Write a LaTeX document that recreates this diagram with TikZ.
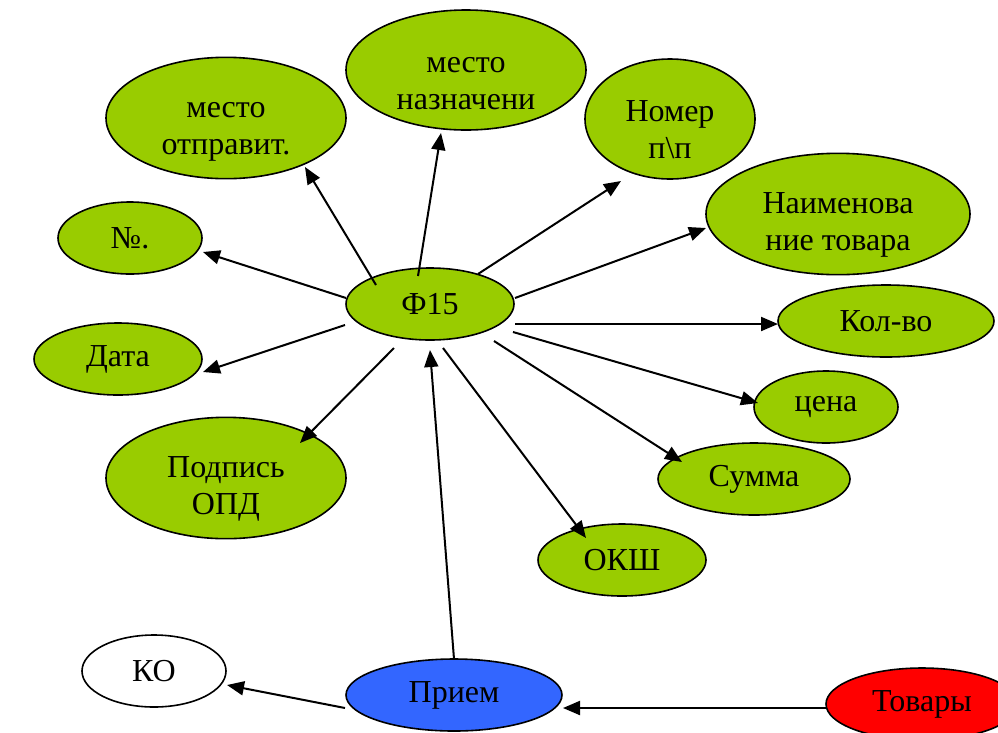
\documentclass[tikz,border=0pt]{standalone}
\usepackage{fontspec}
\setmainfont{Liberation Serif}
\usetikzlibrary{shapes.geometric,arrows.meta,calc}
\definecolor{grn}{HTML}{99CC00}
\definecolor{blu}{HTML}{3366FF}
\definecolor{rd}{HTML}{FF0000}
\tikzset{
  el/.style 2 args={ellipse, draw=black, line width=1.6pt, fill=grn,
    minimum width=#1, minimum height=#2, inner sep=0pt, align=center,
    font=\fontsize{32}{37}\selectfont},
  arr/.style={line width=2pt, -{Triangle[length=17pt,width=14pt]}},
}
\newcommand{\tl}{\rule{0pt}{42pt}}
\begin{document}
\begin{tikzpicture}[x=1pt,y=-1pt]
\useasboundingbox (0,0) rectangle (998,732);
\begin{scope}
\clip (0,0) rectangle (998,732);
\node[el={240pt}{120pt}] (otpr) at (226,118) {\tl место\\отправит.};
\node[el={240pt}{120pt}] (nazn) at (466,70) {\tl место\\назначени};
\node[el={170pt}{120pt}] (nomer) at (670,119) {\tl Номер\\п\textbackslash п};
\node[el={264pt}{120pt}] (naim) at (838,214) {\tl Наименова\\ние товара};
\node[el={216pt}{72pt}] (kol) at (886,321) {Кол-во};
\node[el={144pt}{72pt}] (no) at (130,238) {№.};
\node[el={168pt}{72pt}] (f15) at (430,304) {Ф15};
\node[el={168pt}{72pt}] (data) at (118,359) {Дата};
\node[el={240pt}{120pt}] (podp) at (226,478) {\tl Подпись\\ОПД};
\node[el={144pt}{72pt}] (tsena) at (826,407) {цена};
\node[el={192pt}{72pt}] (summa) at (754,479) {Сумма};
\node[el={168pt}{72pt}] (oksh) at (622,560) {ОКШ};
\node[el={144pt}{72pt}, fill=white] (ko) at (154,671) {КО};
\node[el={216pt}{72pt}, fill=blu] (priem) at (454,695) {Прием};
\node[el={192pt}{72pt}, fill=rd] (tov) at (922,704) {Товары};
\end{scope}
\draw[arr] ($(f15)+(-84,-6)$) -- ($(no)+(73,14)$);
\draw[arr] ($(f15)+(-85,21)$) -- ($(data)+(85,13)$);
\draw[arr] ($(f15)+(-54,-19)$) -- ($(otpr)+(79,49)$);
\draw[arr] ($(f15)+(-12,-28)$) -- ($(nazn)+(-25,63)$);
\draw[arr] ($(f15)+(48,-30)$) -- ($(nomer)+(-49,62)$);
\draw[arr] ($(f15)+(85,-6)$) -- ($(naim)+(-132,14)$);
\draw[arr] ($(f15)+(85,20)$) -- ($(kol)+(-108,3)$);
\draw[arr] ($(f15)+(83,28)$) -- ($(tsena)+(-68,-4)$);
\draw[arr] ($(f15)+(64,37)$) -- ($(summa)+(-72,-17)$);
\draw[arr] ($(f15)+(13,44)$) -- ($(oksh)+(-36,-22)$);
\draw[arr] ($(f15)+(-36,44)$) -- ($(podp)+(74,-35)$);
\draw[arr] ($(priem)+(0,-36)$) -- ($(f15)+(0,46)$);
\draw[arr] ($(priem)+(-109,13)$) -- ($(ko)+(73,14)$);
\draw[arr] ($(tov)+(-96,4)$) -- ($(priem)+(109,13)$);
\end{tikzpicture}
\end{document}
